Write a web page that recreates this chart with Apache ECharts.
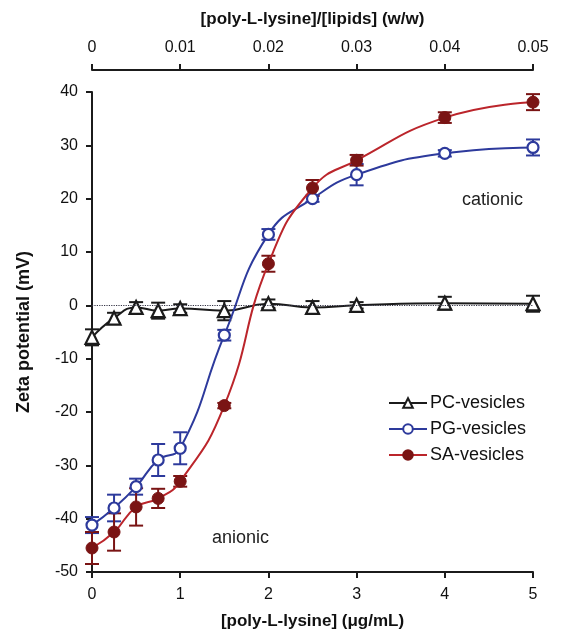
<!DOCTYPE html>
<html>
<head>
<meta charset="utf-8">
<script src="https://cdn.jsdelivr.net/npm/echarts@6/dist/echarts.min.js"></script>
<style>
  html, body { margin: 0; padding: 0; background: #fff; }
  #chart { width: 562px; height: 635px; }
</style>
</head>
<body>
<div id="chart"></div>
<script>
// poly-L-lysine concentration (ug/mL)
var conc = [0, 0.25, 0.5, 0.75, 1, 1.5, 2, 2.5, 3, 4, 5];
// zeta potential (mV) and error bars
var pcMean = [-6.0, -2.4, -0.4, -1.0, -0.6, -1.0, 0.3, -0.4, 0, 0.4, 0.3];
var pcErr  = [1.5, 1, 1, 1.5, 0.8, 1.8, 0.8, 1.2, 0.6, 1.2, 1.5];
var pgMean = [-41.2, -38, -34, -29, -26.8, -5.6, 13.3, 20, 24.5, 28.5, 29.6];
var pgErr  = [1.5, 2.5, 1.5, 3, 3, 1, 1, 0.6, 2, 0.6, 1.5];
var saMean = [-45.5, -42.5, -37.8, -36.2, -33, -18.8, 7.8, 22, 27.2, 35.2, 38.1];
var saErr  = [3, 3.5, 3.5, 1.8, 1, 0.5, 1.5, 1.5, 1, 1, 1.5];
var topTicks = ['0', '0.01', '0.02', '0.03', '0.04', '0.05'];

var font = 'Liberation Sans, Arial, sans-serif';
var black = '#1b1b1b', blue = '#2d3a9c', red = '#bb252b', darkRed = '#7a1414';

function pairs(ys) {
    return conc.map(function (x, i) { return [x, ys[i]]; });
}

function errSeries(ys, es, color) {
    return {
        type: 'custom',
        silent: true,
        z: 1,
        data: conc.map(function (x, i) { return [x, ys[i] - es[i], ys[i] + es[i]]; }),
        renderItem: function (params, api) {
            var lo = api.coord([api.value(0), api.value(1)]);
            var hi = api.coord([api.value(0), api.value(2)]);
            var w = 7;
            var st = { stroke: color, lineWidth: 2 };
            return {
                type: 'group',
                children: [
                    { type: 'line', shape: { x1: lo[0], y1: lo[1], x2: hi[0], y2: hi[1] }, style: st },
                    { type: 'line', shape: { x1: lo[0] - w, y1: lo[1], x2: lo[0] + w, y2: lo[1] }, style: st },
                    { type: 'line', shape: { x1: hi[0] - w, y1: hi[1], x2: hi[0] + w, y2: hi[1] }, style: st }
                ]
            };
        }
    };
}

var nameStyle = { fontSize: 17, fontWeight: 'bold', color: '#111', fontFamily: font };
var tickFont = { fontSize: 16, color: '#111', fontFamily: font };

var chart = echarts.init(document.getElementById('chart'));
var option = {
    animation: false,
    grid: { left: 92, right: 29, top: 92, bottom: 61 },
    textStyle: { fontFamily: font },
    legend: {
        orient: 'vertical',
        left: 383,
        top: 389,
        itemWidth: 38,
        itemHeight: 12,
        itemGap: 8,
        textStyle: { fontSize: 18, color: '#111', fontFamily: font, padding: [0, 0, 0, -2] },
        data: ['PC-vesicles', 'PG-vesicles', 'SA-vesicles']
    },
    xAxis: [{
        type: 'value',
        min: 0, max: 5, interval: 1,
        name: '[poly-L-lysine] (\u03bcg/mL)',
        nameLocation: 'middle',
        nameGap: 41,
        nameTextStyle: nameStyle,
        axisLine: { onZero: false, lineStyle: { color: black, width: 2 } },
        axisTick: { length: 6, lineStyle: { color: black, width: 2 } },
        axisLabel: Object.assign({ margin: 15 }, tickFont),
        splitLine: { show: false }
    }, {
        type: 'value',
        position: 'top',
        offset: 22,
        min: 0, max: 0.05, interval: 0.01,
        name: '[poly-L-lysine]/[lipids] (w/w)',
        nameLocation: 'middle',
        nameGap: 42,
        nameTextStyle: nameStyle,
        axisLine: { onZero: false, lineStyle: { color: black, width: 2 } },
        axisTick: { length: 6, lineStyle: { color: black, width: 2 } },
        axisLabel: Object.assign({
            margin: 14,
            formatter: function (v) { return topTicks[Math.round(v * 100)]; }
        }, tickFont),
        splitLine: { show: false }
    }],
    yAxis: {
        type: 'value',
        min: -50, max: 40, interval: 10,
        name: 'Zeta potential (mV)',
        nameLocation: 'middle',
        nameGap: 59,
        nameTextStyle: Object.assign({}, nameStyle, { fontSize: 18 }),
        axisLine: { show: true, onZero: false, lineStyle: { color: black, width: 2 } },
        axisTick: { show: true, length: 6, lineStyle: { color: black, width: 2 } },
        axisLabel: Object.assign({ margin: 14 }, tickFont),
        splitLine: { show: false }
    },
    graphic: [
        { type: 'text', left: 462, top: 191, style: { text: 'cationic', fontSize: 18, fill: '#222', fontFamily: font } },
        { type: 'text', left: 212, top: 529, style: { text: 'anionic', fontSize: 18, fill: '#222', fontFamily: font } }
    ],
    series: [
        errSeries(pcMean, pcErr, black),
        errSeries(pgMean, pgErr, blue),
        errSeries(saMean, saErr, darkRed),
        {
            name: 'PC-vesicles',
            type: 'line',
            z: 3,
            data: pairs(pcMean),
            smooth: 0.5,
            symbol: 'triangle',
            symbolSize: 13,
            lineStyle: { color: black, width: 2 },
            itemStyle: { color: '#fff', borderColor: black, borderWidth: 2.2 },
            markLine: {
                silent: true,
                symbol: 'none',
                label: { show: false },
                lineStyle: { type: 'dotted', color: '#334', width: 1.2 },
                data: [{ yAxis: 0 }]
            }
        },
        {
            name: 'PG-vesicles',
            type: 'line',
            z: 4,
            data: pairs(pgMean),
            smooth: 0.5,
            symbol: 'circle',
            symbolSize: 11,
            lineStyle: { color: blue, width: 2 },
            itemStyle: { color: '#fff', borderColor: blue, borderWidth: 2.2 }
        },
        {
            name: 'SA-vesicles',
            type: 'line',
            z: 5,
            data: pairs(saMean),
            smooth: 0.5,
            symbol: 'circle',
            symbolSize: 12,
            lineStyle: { color: red, width: 2 },
            itemStyle: { color: darkRed, borderColor: darkRed, borderWidth: 1 }
        }
    ]
};
chart.setOption(option);
</script>
</body>
</html>
